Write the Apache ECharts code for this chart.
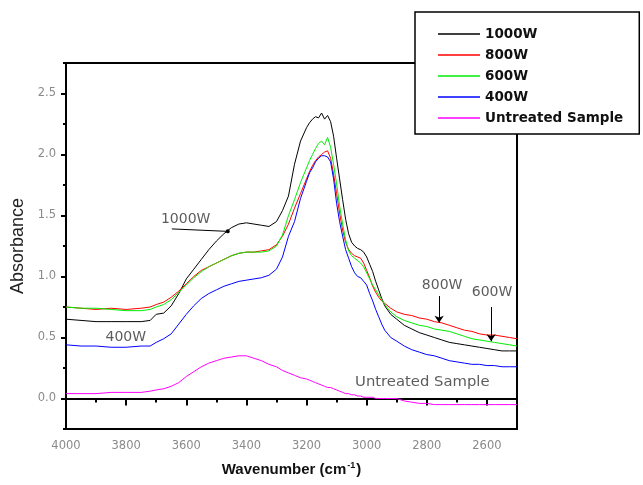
<!DOCTYPE html>
<html>
<head>
<meta charset="utf-8">
<script src="https://cdn.jsdelivr.net/npm/echarts@6/dist/echarts.min.js"></script>
<style>
  html, body { margin: 0; padding: 0; background: #fff; }
  #chart { width: 643px; height: 485px; }
</style>
</head>
<body>
<div id="chart"></div>
<script>
// ===== data =====
const wavenumbers = [4000, 3950, 3900, 3850, 3800, 3750, 3720, 3700, 3675, 3650, 3625, 3600, 3575, 3550, 3525, 3500,
  3475, 3450, 3425, 3400, 3375, 3350, 3325, 3300, 3280, 3260, 3240, 3220, 3200, 3190, 3180, 3170, 3160, 3150, 3140,
  3130, 3120, 3110, 3100, 3090, 3080, 3070, 3060, 3050, 3040, 3030, 3020, 3010, 3000, 2990, 2980, 2970, 2960, 2950,
  2940, 2920, 2900, 2875, 2850, 2825, 2800, 2775, 2750, 2725, 2700, 2675, 2650, 2625, 2600, 2575, 2550, 2525, 2500];

const abs1000 = [0.65, 0.64, 0.63, 0.63, 0.63, 0.63, 0.64, 0.69, 0.70, 0.76, 0.86, 0.98, 1.06, 1.14, 1.22, 1.29,
  1.35, 1.40, 1.43, 1.44, 1.43, 1.42, 1.41, 1.45, 1.54, 1.66, 1.92, 2.11, 2.22, 2.26, 2.29, 2.31, 2.30, 2.34, 2.29,
  2.32, 2.27, 2.15, 1.97, 1.80, 1.63, 1.47, 1.35, 1.28, 1.25, 1.23, 1.22, 1.20, 1.16, 1.10, 1.04, 0.96, 0.89, 0.82,
  0.76, 0.69, 0.65, 0.60, 0.57, 0.54, 0.52, 0.50, 0.48, 0.46, 0.45, 0.44, 0.43, 0.42, 0.41, 0.40, 0.39, 0.39, 0.39];

const abs800 = [0.75, 0.74, 0.73, 0.74, 0.73, 0.74, 0.75, 0.77, 0.79, 0.83, 0.88, 0.94, 1.00, 1.05, 1.08, 1.11,
  1.14, 1.17, 1.19, 1.20, 1.20, 1.21, 1.22, 1.26, 1.33, 1.43, 1.56, 1.68, 1.80, 1.86, 1.91, 1.95, 1.98, 2.00, 2.02,
  2.03, 1.97, 1.84, 1.68, 1.52, 1.38, 1.28, 1.22, 1.19, 1.17, 1.16, 1.15, 1.11, 1.05, 0.99, 0.92, 0.87, 0.83, 0.80,
  0.78, 0.74, 0.71, 0.69, 0.68, 0.66, 0.65, 0.63, 0.62, 0.60, 0.58, 0.56, 0.55, 0.53, 0.52, 0.52, 0.51, 0.50, 0.49];

const abs600 = [0.75, 0.74, 0.74, 0.73, 0.72, 0.72, 0.73, 0.75, 0.77, 0.81, 0.87, 0.93, 0.99, 1.04, 1.08, 1.11,
  1.14, 1.17, 1.19, 1.20, 1.20, 1.20, 1.21, 1.25, 1.34, 1.50, 1.63, 1.77, 1.89, 1.95, 2.00, 2.05, 2.09, 2.11, 2.08,
  2.14, 2.06, 1.92, 1.76, 1.58, 1.43, 1.30, 1.21, 1.17, 1.15, 1.13, 1.11, 1.08, 1.03, 0.98, 0.93, 0.89, 0.85, 0.81,
  0.77, 0.71, 0.67, 0.64, 0.62, 0.60, 0.59, 0.57, 0.56, 0.55, 0.53, 0.51, 0.49, 0.48, 0.47, 0.46, 0.45, 0.44, 0.43];

const abs400 = [0.44, 0.43, 0.43, 0.42, 0.42, 0.43, 0.43, 0.46, 0.49, 0.53, 0.61, 0.69, 0.76, 0.82, 0.86, 0.89,
  0.92, 0.94, 0.96, 0.97, 0.98, 0.99, 1.01, 1.06, 1.16, 1.33, 1.45, 1.64, 1.78, 1.85, 1.89, 1.94, 1.97, 1.99, 1.99,
  1.98, 1.94, 1.80, 1.60, 1.45, 1.33, 1.22, 1.15, 1.08, 1.03, 1.00, 0.99, 0.96, 0.93, 0.86, 0.80, 0.73, 0.67, 0.61,
  0.56, 0.50, 0.47, 0.43, 0.40, 0.38, 0.36, 0.35, 0.33, 0.31, 0.30, 0.29, 0.28, 0.28, 0.27, 0.27, 0.26, 0.26, 0.26];

const absUntreated = [0.04, 0.04, 0.04, 0.05, 0.05, 0.05, 0.06, 0.07, 0.08, 0.10, 0.13, 0.18, 0.22, 0.26, 0.29, 0.31,
  0.33, 0.34, 0.35, 0.35, 0.33, 0.31, 0.28, 0.26, 0.23, 0.21, 0.19, 0.17, 0.16, 0.15, 0.14, 0.13, 0.12, 0.11, 0.10,
  0.09, 0.09, 0.08, 0.07, 0.06, 0.05, 0.04, 0.04, 0.03, 0.03, 0.02, 0.02, 0.01, 0.01, 0.01, 0.01, 0.00, 0.00, 0.00,
  0.00, 0.00, 0.00, -0.02, -0.03, -0.04, -0.04, -0.05, -0.05, -0.05, -0.05, -0.05, -0.05, -0.05, -0.05, -0.05, -0.05, -0.05, -0.05];

const seriesNames = ["1000W", "800W", "600W", "400W", "Untreated Sample"];
const seriesColors = ["#000000", "#ff0000", "#00ee00", "#0000ff", "#ff00ff"];
const seriesValues = [abs1000, abs800, abs600, abs400, absUntreated];

const xMajorTicks = [2600, 2800, 3000, 3200, 3400, 3600, 3800, 4000];
const yMajorTicks = [0, 0.5, 1.0, 1.5, 2.0, 2.5];

// text notes inside the plot (wavenumber, absorbance)
const noteNames = ["1000W", "400W", "800W", "600W", "Untreated Sample"];
const noteX = [3602, 3801, 2749, 2583, 2815];
const noteY = [1.47, 0.50, 0.93, 0.87, 0.13];

// arrows: [x1, y1, x2, y2, end symbol]
const arrows = [
  [3648, 1.39, 3462, 1.37, "circle"],
  [2759, 0.84, 2759, 0.62, "arrow"],
  [2586, 0.75, 2586, 0.47, "arrow"]
];

// ===== chart =====
const chart = echarts.init(document.getElementById("chart"));

const tickFont = { color: "#8a8a8a", fontSize: 11.5, fontFamily: "DejaVu Sans" };

function pairs(ys) {
  return wavenumbers.map((x, i) => [x, ys[i]]);
}

const lineSeries = seriesNames.map((name, i) => ({
  name,
  type: "line",
  data: pairs(seriesValues[i]),
  showSymbol: false,
  symbol: "none",
  lineStyle: { color: seriesColors[i], width: 1 },
  itemStyle: { color: seriesColors[i] },
  z: 3
}));

lineSeries[0].markLine = {
  silent: true,
  animation: false,
  label: { show: false },
  lineStyle: { color: "#000", width: 1, type: "solid" },
  data: arrows.map(a => [
    { coord: [a[0], a[1]], symbol: "none" },
    { coord: [a[2], a[3]], symbol: a[4], symbolSize: a[4] === "circle" ? 4 : 7 }
  ])
};

const notesSeries = {
  name: "notes",
  type: "scatter",
  silent: true,
  symbolSize: 1,
  itemStyle: { color: "rgba(0,0,0,0)" },
  data: noteNames.map((n, i) => ({
    name: n,
    value: [noteX[i], noteY[i]],
    label: n === "Untreated Sample" ? { fontSize: 14.8 } : undefined
  })),
  label: {
    show: true,
    position: "inside",
    formatter: "{b}",
    color: "#333",
    fontSize: 14,
    fontFamily: "DejaVu Sans"
  },
  z: 4
};

chart.setOption({
  animation: false,
  backgroundColor: "#fff",
  grid: {
    left: 66, right: 126, top: 63, bottom: 56,
    show: true, borderColor: "#000", borderWidth: 2
  },
  legend: {
    data: seriesNames,
    orient: "vertical",
    left: 415,
    top: 12,
    icon: "rect",
    itemWidth: 42,
    itemHeight: 1.5,
    itemGap: 7,
    padding: [15, 16, 9, 23],
    backgroundColor: "#fff",
    borderColor: "#000",
    borderWidth: 1.5,
    borderRadius: 0,
    selectedMode: false,
    textStyle: {
      color: "#111",
      fontSize: 13.5,
      fontWeight: "bold",
      fontFamily: "DejaVu Sans",
      lineHeight: 14
    },
    z: 10
  },
  xAxis: [
    {
      type: "value",
      position: "bottom",
      inverse: true,
      min: 2500, max: 4000, interval: 100,
      name: "{t|Wavenumber (cm}{s|-1}{t|)}",
      nameLocation: "middle",
      nameGap: 32,
      nameTextStyle: {
        rich: {
          t: { fontSize: 15, fontWeight: "bold", color: "#111", fontFamily: "Liberation Sans", lineHeight: 18 },
          s: { fontSize: 9, fontWeight: "bold", color: "#111", fontFamily: "Liberation Sans", lineHeight: 18, padding: [0, 1, 9, 1] }
        }
      },
      axisLine: { show: true, lineStyle: { color: "#000", width: 2 } },
      axisTick: { show: true, length: 4, lineStyle: { color: "#000", width: 2 } },
      axisLabel: Object.assign({
        margin: 11,
        formatter: v => (v % 200 === 0 ? String(v) : "")
      }, tickFont),
      splitLine: { show: false }
    },
    {
      type: "value",
      position: "bottom",
      offset: 0,
      inverse: true,
      min: 2500, max: 4000,
      axisLine: { show: false },
      axisTick: { show: true, length: 7, customValues: xMajorTicks, lineStyle: { color: "#000", width: 2 } },
      axisLabel: { show: false },
      splitLine: { show: false }
    }
  ],
  yAxis: [
    {
      type: "value",
      position: "left",
      min: -0.25, max: 2.75, interval: 0.25,
      name: "Absorbance",
      nameLocation: "middle",
      nameGap: 37,
      nameTextStyle: { fontSize: 18, color: "#222", fontFamily: "Liberation Sans" },
      axisLine: { show: true, lineStyle: { color: "#000", width: 2 } },
      axisTick: { show: true, length: 3, lineStyle: { color: "#000", width: 2 } },
      axisLabel: Object.assign({
        margin: 10,
        formatter: v => (Math.abs(v * 2 - Math.round(v * 2)) < 1e-6 ? v.toFixed(1) : "")
      }, tickFont),
      splitLine: { show: false }
    },
    {
      type: "value",
      position: "left",
      offset: 0,
      min: -0.25, max: 2.75,
      axisLine: { show: false },
      axisTick: { show: true, length: 5, customValues: yMajorTicks, lineStyle: { color: "#000", width: 2 } },
      axisLabel: { show: false },
      splitLine: { show: false }
    }
  ],
  series: lineSeries.concat([notesSeries])
});
</script>
</body>
</html>
